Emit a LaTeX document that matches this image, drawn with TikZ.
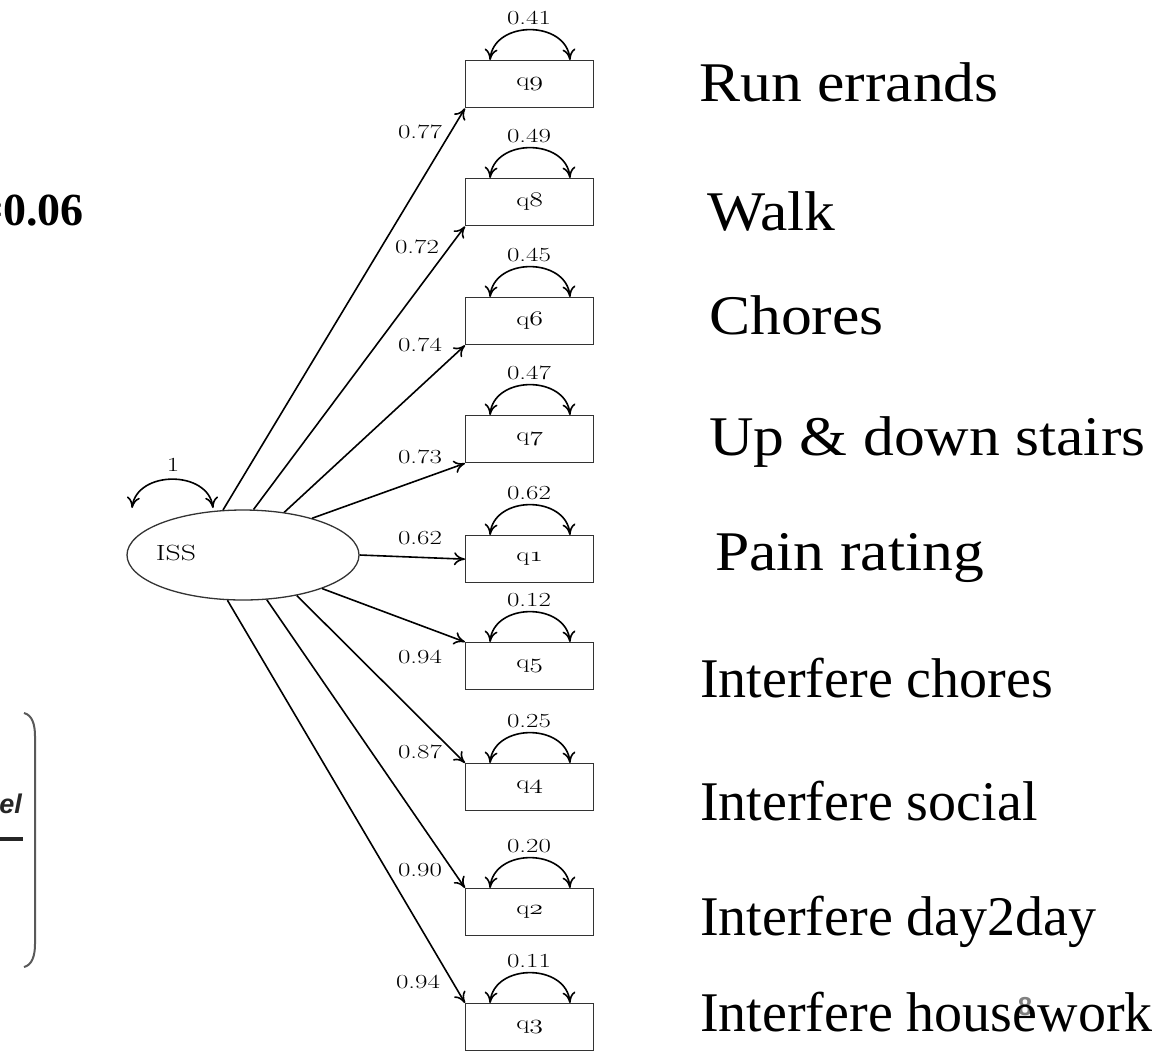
\documentclass[tikz,border=0pt]{standalone}
\usepackage{fontspec}
\usepackage{graphicx}
\usetikzlibrary{arrows.meta,shapes.geometric}
\newfontfamily\tnr{Liberation Serif}
\newfontfamily\arl{Liberation Sans}
\newcommand{\myw}[1]{\scalebox{1.35}[1]{#1}}
\newcommand{\myt}[1]{\scalebox{1.1}[1]{#1}}
\begin{document}
\begin{tikzpicture}[x=1pt,y=-1pt,
  ind/.style={draw=black!80, line width=1.3pt, minimum width=128pt, minimum height=47pt, inner sep=0pt, anchor=north west, font=\fontsize{20}{22}\selectfont},
  lat/.style={draw=black!80, line width=1.3pt, ellipse, minimum width=232pt, minimum height=90pt, inner sep=0pt},
  load/.style={line width=1.6pt, -{To[length=11pt,width=13pt]}},
  var/.style={line width=1.6pt, {To[length=11pt,width=13pt]}-{To[length=11pt,width=13pt]}},
  coef/.style={font=\fontsize{20}{22}\selectfont, inner sep=0pt},
  itemlbl/.style={font=\tnr\fontsize{56}{60}\selectfont, anchor=base west, inner sep=0pt}
]
\useasboundingbox (0,0) rectangle (1155,1050);
\clip (0,0) rectangle (1155,1050);

% latent variable
\node[lat] (ISS) at (243,555) {};
\node[coef, font=\fontsize{22}{24}\selectfont] (isslbl) at (176,553) {\myw{ISS}};
\coordinate (issv1) at (132,508);
\coordinate (issv2) at (213,508);
\draw[var] (issv1) .. controls +(5,-38) and +(-5,-38) .. (issv2);
\node[coef] (issvar) at (173,465) {\myw{1}};

% indicators
\foreach \nm/\tp/\v in {9/60/0.41, 8/178/0.49, 6/297/0.45, 7/415/0.47, 1/535/0.62, 5/642/0.12, 4/763/0.25, 2/888/0.20, 3/1003/0.11}{
  \node[ind] (q\nm) at (465,\tp) {\myw{q$\mathnormal{\nm}$}};
  \draw[var] ([xshift=25pt]q\nm.north west) .. controls +(4,-40) and +(-4,-40) .. ([xshift=105pt]q\nm.north west);
  \node[coef] (v\nm) at ([xshift=64pt,yshift=42pt]q\nm.north west) {\myw{\v}};
}

% loadings
\draw[load] (ISS.114) -- (q9.south west);
\draw[load] (ISS.77) -- (q8.south west);
\draw[load] (ISS.46) -- (q6.south west);
\draw[load] (ISS.28) -- (q7.south west);
\draw[load] (ISS.east) -- (q1.west);
\draw[load] (ISS.-23) -- (q5.north west);
\draw[load] (ISS.-37) -- (q4.north west);
\draw[load] (ISS.-62) -- (q2.north west);
\draw[load] (ISS.-109) -- (q3.north west);

\node[coef] (l9) at (420,132) {\myw{0.77}};
\node[coef] (l8) at (417,247) {\myw{0.72}};
\node[coef] (l6) at (420,345) {\myw{0.74}};
\node[coef] (l7) at (420,457) {\myw{0.73}};
\node[coef] (l1) at (420,538) {\myw{0.62}};
\node[coef] (l5) at (420,657) {\myw{0.94}};
\node[coef] (l4) at (420,752) {\myw{0.87}};
\node[coef] (l2) at (420,870) {\myw{0.90}};
\node[coef] (l3) at (418,982) {\myw{0.94}};

% slide number
\node[font=\arl\bfseries\fontsize{26}{28}\selectfont, text=gray, inner sep=0pt] (slnum) at (1025,1007) {8};

% item texts
\node[itemlbl] (t9) at (699,101) {\myt{Run errands}};
\node[itemlbl] (t8) at (707,230) {\myt{Walk}};
\node[itemlbl] (t6) at (709,334) {\myt{Chores}};
\node[itemlbl] (t7) at (709,455) {\myt{Up \& down stairs}};
\node[itemlbl] (t1) at (715,570) {\myt{Pain rating}};
\node[itemlbl] (t5) at (700,697) {Interfere chores};
\node[itemlbl] (t4) at (700,820) {Interfere social};
\node[itemlbl] (t2) at (700,935) {Interfere day2day};
\node[itemlbl] (t3) at (700,1031) {Interfere housework};

% cut-off left side
\node[font=\tnr\bfseries\fontsize{46}{50}\selectfont, anchor=base east, inner sep=0pt] (rmsea) at (84,225) {=0.06};
\node[font=\arl\bfseries\itshape\fontsize{27}{30}\selectfont, text=black!85, anchor=base east, inner sep=0pt] (mdl) at (22,813) {del};
\draw[line width=4pt, black!85] (0,839) -- (23,839);
\draw[gray!70!black, line width=2pt] (24,713) .. controls (32,715) and (35,724) .. (35,736) -- (35,944) .. controls (35,956) and (32,965) .. (24,967);
\end{tikzpicture}
\end{document}
